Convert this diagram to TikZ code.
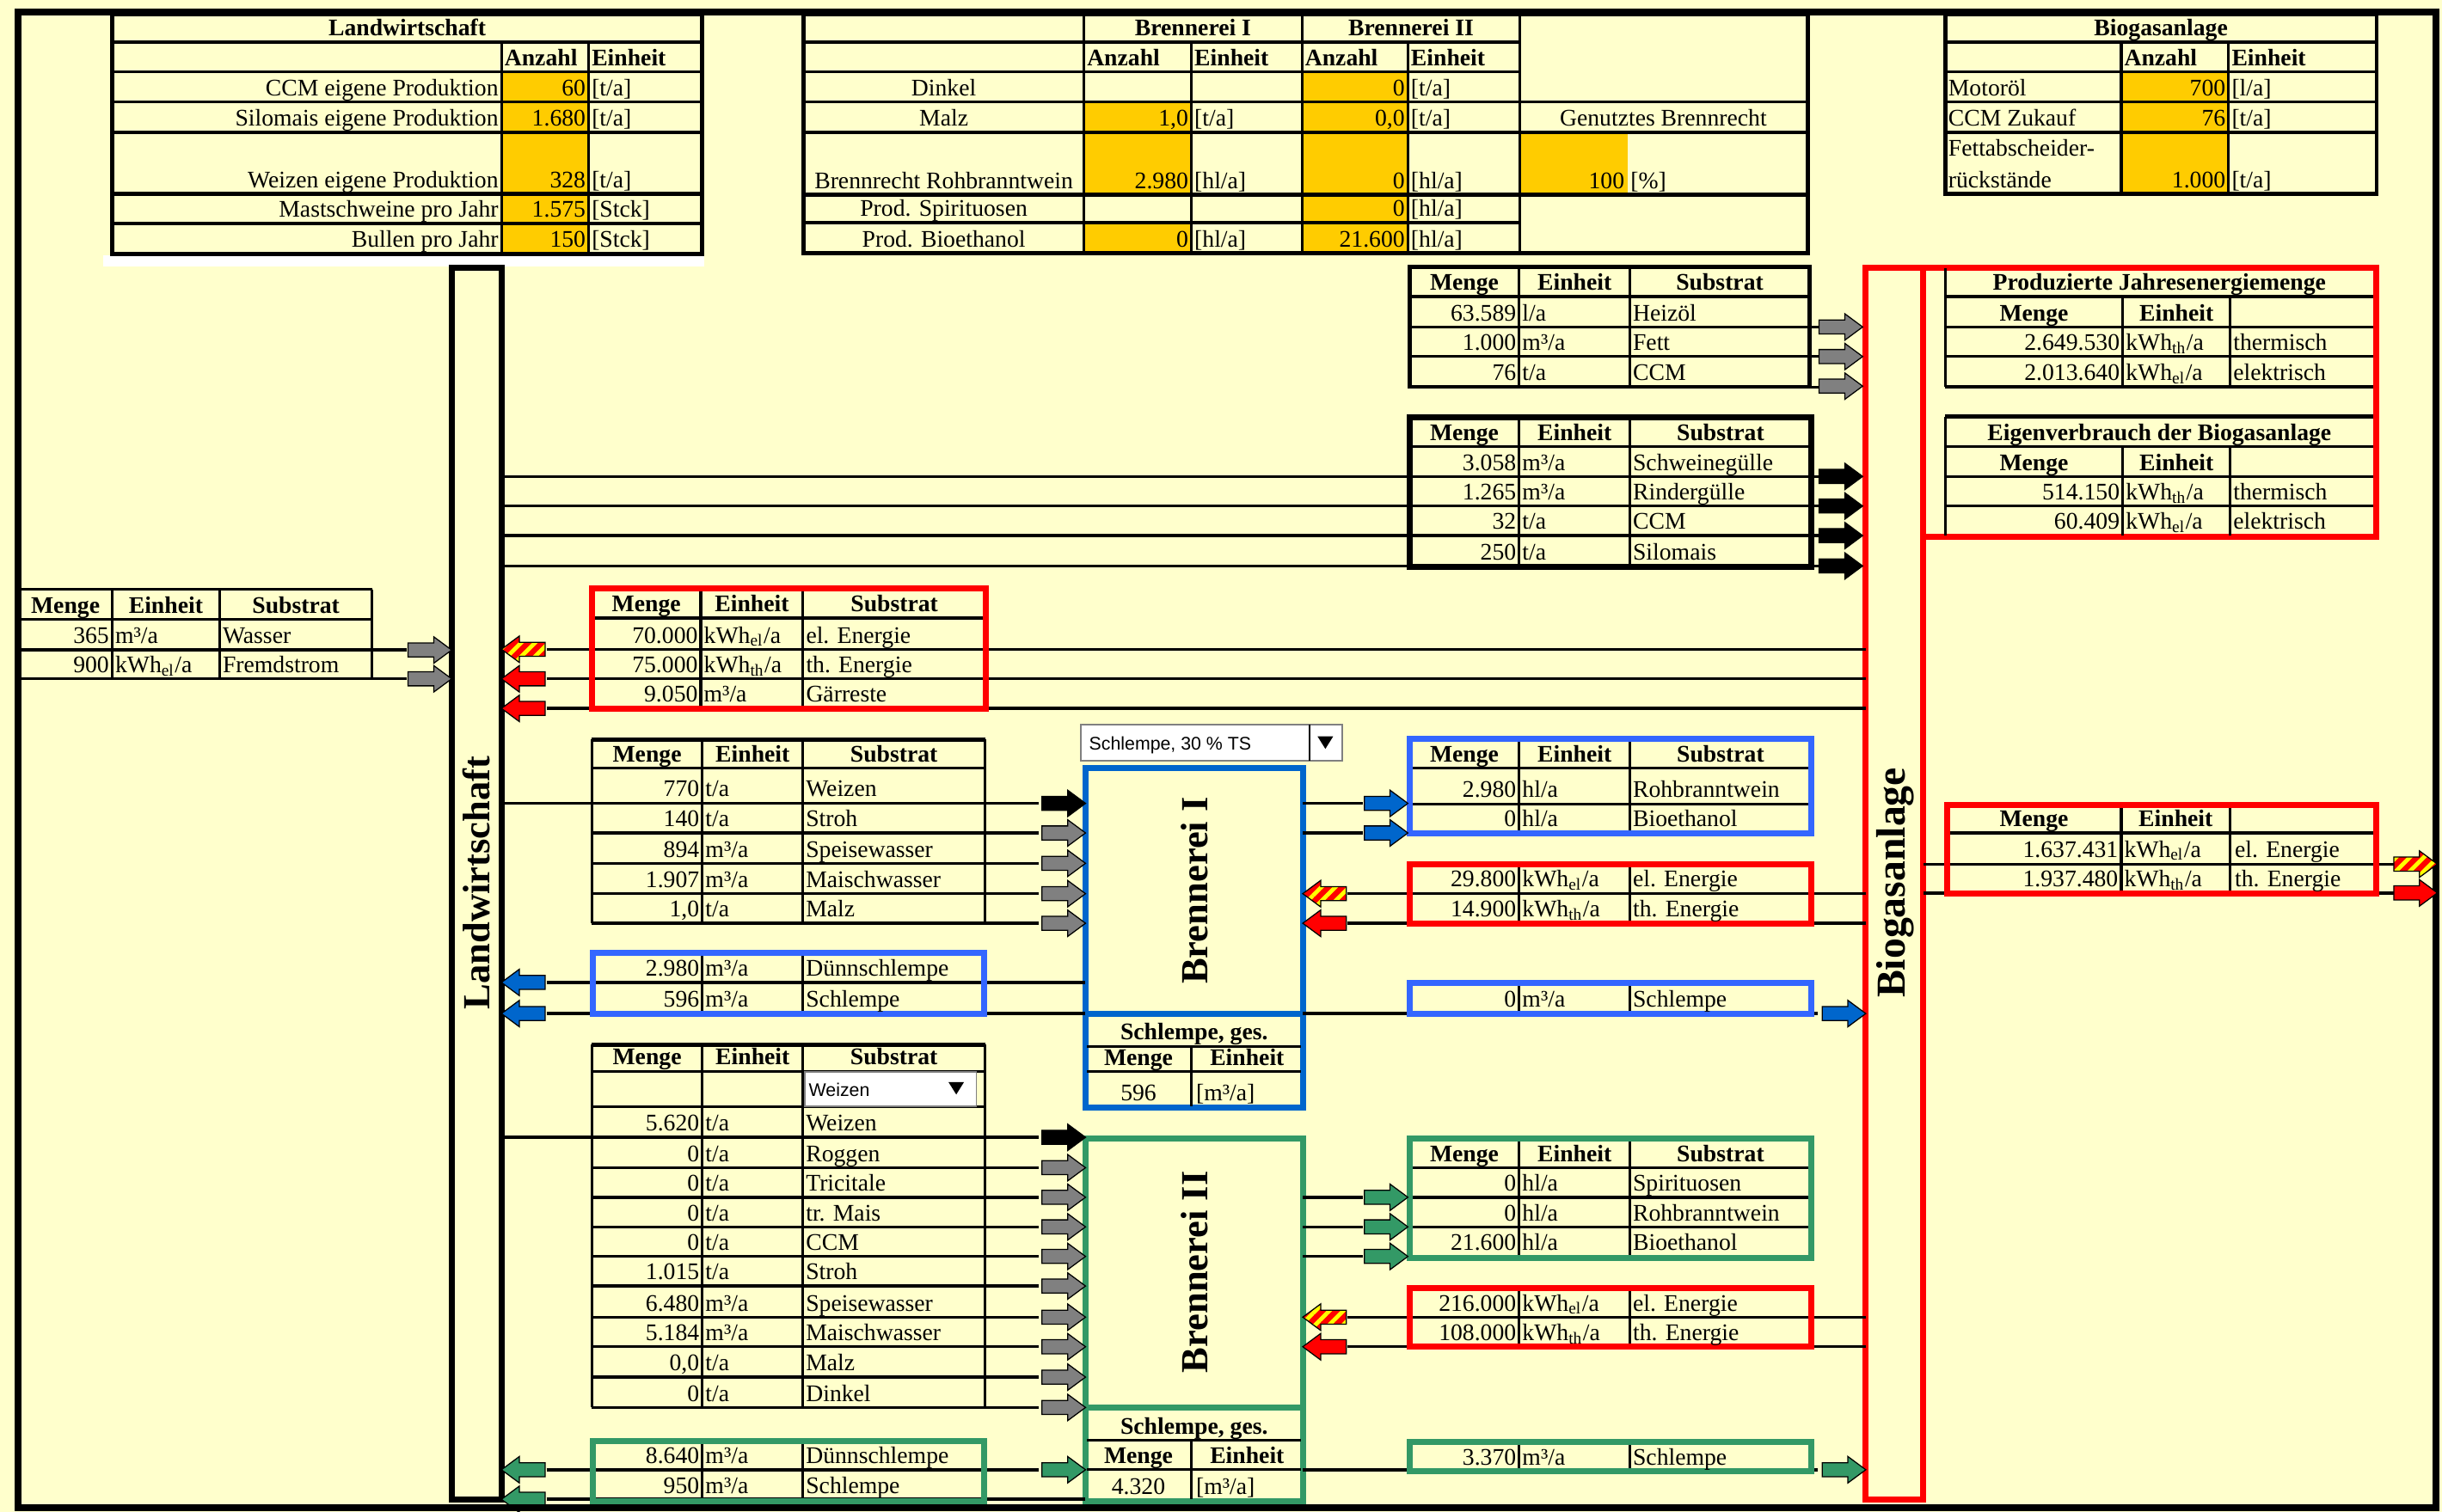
\documentclass[tikz,border=0pt]{standalone}
\usepackage{fontspec}
\setmainfont{Liberation Serif}
\newfontfamily\ddfont{Liberation Sans}
\usetikzlibrary{patterns.meta}
\definecolor{bgy}{HTML}{FFFFCC}
\definecolor{celly}{HTML}{FFCC00}
\definecolor{bbox}{HTML}{0066CC}
\definecolor{btab}{HTML}{3366FF}
\definecolor{gbox}{HTML}{339966}
\definecolor{garr}{HTML}{808080}
\newcounter{cn}
\newcommand\txR[3]{\stepcounter{cn}\node[txt,anchor=base east] (t\arabic{cn}) at (#1,#2) {#3};}
\newcommand\txL[3]{\stepcounter{cn}\node[txt,anchor=base west] (t\arabic{cn}) at (#1,#2) {#3};}
\newcommand\txC[3]{\stepcounter{cn}\node[txt,anchor=base] (t\arabic{cn}) at (#1,#2) {#3};}
\newcommand\hdC[3]{\stepcounter{cn}\node[hd,anchor=base] (t\arabic{cn}) at (#1,#2) {#3};}
\newcommand\hdL[3]{\stepcounter{cn}\node[hd,anchor=base west] (t\arabic{cn}) at (#1,#2) {#3};}
\newcommand\mhead[5]{\hdC{{(#1+#2)/2}}{#5}{Menge}\hdC{{(#2+#3)/2}}{#5}{Einheit}\hdC{{(#3+#4)/2}}{#5}{Substrat}}
\newcommand\mrow[6]{\txR{#1-2}{#3}{#4}\txL{#1+2}{#3}{#5}\txL{#2+2}{#3}{#6}}
\newcommand\kel{kWh\textsubscript{el}/a}
\newcommand\kth{kWh\textsubscript{th}/a}
\newcommand\arrowpath{(-28,-4.5) -- (-11.5,-4.5) -- (-11.5,-8.5) -- (0,0) -- (-11.5,8.5) -- (-11.5,4.5) -- (-28,4.5) -- cycle}
\tikzset{
  barrow/.pic={\path[pic actions] \arrowpath;},
  harrow/.pic={\fill[red] \arrowpath;
    \path[pattern={Lines[angle=45,distance=3.6pt,line width=1.5pt]},pattern color=yellow] \arrowpath;
    \draw[black,line width=0.4pt] \arrowpath;},
}
\begin{document}
\begin{tikzpicture}[x=0.02cm,y=-0.02cm,
  txt/.style={inner sep=0,outer sep=0,font=\fontsize{8.7}{10}\selectfont},
  hd/.style={inner sep=0,outer sep=0,font=\fontsize{8.7}{10}\selectfont\bfseries},
  big/.style={inner sep=0,outer sep=0,font=\fontsize{14}{16}\selectfont\bfseries,rotate=90},
  tl/.style={line width=1pt},
  tb/.style={line width=1.5pt},
  conn/.style={line width=1.1pt},
  cbord/.style={line width=2.2pt},
  boxnode/.style={draw,inner sep=0,outer sep=0,line width=2.2pt},
  agray/.style={draw=black,line width=0.4pt,fill=garr},
  ablack/.style={draw=black,line width=0.4pt,fill=black},
  ared/.style={draw=black,line width=0.4pt,fill=red},
  ablue/.style={draw=black,line width=0.4pt,fill=bbox},
  agreen/.style={draw=black,line width=0.4pt,fill=gbox},
]
% ---------- background and frame
\fill[bgy] (0,0) rectangle (1568,971);
\useasboundingbox (0,0) rectangle (1568,971);
\fill[white] (66,164) rectangle (452,171);

% ---------- main boxes
\node[boxnode,minimum width=0.64cm,minimum height=15.82cm] (lw) at (306,567.5) {};
\node[boxnode,draw=red,minimum width=0.74cm,minimum height=15.82cm] (bg) at (1216.5,567.5) {};
\node[big] (lwt) at (306,567) {Landwirtschaft};
\node[big,font=\fontsize{15}{17}\selectfont\bfseries] (bgt) at (1217,567) {Biogasanlage};

% ---------- top-left table Landwirtschaft
\fill[celly] (322,46) rectangle (378,163);
\draw[line width=1.3pt] (72,27) -- (451,27);
\draw[tl] (72,46)--(451,46) (72,65.5)--(451,65.5) (72,85)--(451,85) (72,143.5)--(451,143.5);
\draw[tb] (72,124.5)--(451,124.5);
\draw[tl] (322,27)--(322,163) (378,27)--(378,163);
\draw[tb] (72,9) rectangle (451,163);
\hdC{261.5}{23}{Landwirtschaft}
\hdL{324}{42}{Anzahl}\hdL{380}{42}{Einheit}
\txR{320}{61.5}{CCM eigene Produktion}\txR{376}{61.5}{60}\txL{380}{61.5}{[t/a]}
\txR{320}{81}{Silomais eigene Produktion}\txR{376}{81}{1.680}\txL{380}{81}{[t/a]}
\txR{320}{120.5}{Weizen eigene Produktion}\txR{376}{120.5}{328}\txL{380}{120.5}{[t/a]}
\txR{320}{139.5}{Mastschweine pro Jahr}\txR{376}{139.5}{1.575}\txL{380}{139.5}{[Stck]}
\txR{320}{159}{Bullen pro Jahr}\txR{376}{159}{150}\txL{380}{159}{[Stck]}

% ---------- top-middle table Brennerei
\fill[celly] (696,65.5) rectangle (765,125);
\fill[celly] (696,143) rectangle (765,162.5);
\fill[celly] (836,46) rectangle (904,162.5);
\fill[celly] (976,85) rectangle (1045,125);
\draw[tl] (516,27)--(696,27);
\draw[tb] (696,27)--(976,27);
\draw[tl] (516,46)--(976,46);
\draw[tl] (516,65.5)--(1161,65.5) (516,85)--(1161,85) (516,143)--(976,143);
\draw[tb] (516,125)--(1161,125);
\draw[tl] (696,9)--(696,162.5) (836,9)--(836,162.5) (976,9)--(976,162.5) (765,27)--(765,162.5) (904,27)--(904,162.5);
\draw[tb] (516,9) rectangle (1161,162.5);
\hdC{766}{23}{Brennerei I}\hdC{906}{23}{Brennerei II}
\hdL{698}{42}{Anzahl}\hdL{767}{42}{Einheit}\hdL{838}{42}{Anzahl}\hdL{906}{42}{Einheit}
\txC{606}{61.5}{Dinkel}\txR{902}{61.5}{0}\txL{906}{61.5}{[t/a]}
\txC{606}{81}{Malz}\txR{763}{81}{1,0}\txL{767}{81}{[t/a]}\txR{902}{81}{0,0}\txL{906}{81}{[t/a]}\txC{1068}{81}{Genutztes Brennrecht}
\txC{606}{121}{Brennrecht Rohbranntwein}\txR{763}{121}{2.980}\txL{767}{121}{[hl/a]}\txR{902}{121}{0}\txL{906}{121}{[hl/a]}\txR{1043}{121}{100}\txL{1047}{121}{[\%]}
\txC{606}{139}{Prod. Spirituosen}\txR{902}{139}{0}\txL{906}{139}{[hl/a]}
\txC{606}{158.5}{Prod. Bioethanol}\txR{763}{158.5}{0}\txL{767}{158.5}{[hl/a]}\txR{902}{158.5}{21.600}\txL{906}{158.5}{[hl/a]}

% ---------- top-right table Biogasanlage
\fill[celly] (1362,46) rectangle (1431,124.5);
\draw[tl] (1249,27)--(1526,27) (1249,46)--(1526,46) (1249,65.5)--(1526,65.5) (1249,85)--(1526,85);
\draw[tl] (1362,27)--(1362,124.5) (1431,27)--(1431,124.5);
\draw[tb] (1249,9) rectangle (1526,124.5);
\hdC{1387.5}{23}{Biogasanlage}
\hdL{1364}{42}{Anzahl}\hdL{1433}{42}{Einheit}
\txL{1251}{61.5}{Motoröl}\txR{1429}{61.5}{700}\txL{1433}{61.5}{[l/a]}
\txL{1251}{81}{CCM Zukauf}\txR{1429}{81}{76}\txL{1433}{81}{[t/a]}
\txL{1251}{100}{Fettabscheider-}\txL{1251}{120.5}{rückstände}\txR{1429}{120.5}{1.000}\txL{1433}{120.5}{[t/a]}

% ---------- Heizoel table
\draw[tl] (905,190.5)--(1162,190.5) (905,210)--(1168,210) (905,229)--(1168,229) (1162,248.5)--(1168,248.5);
\draw[tl] (975.5,171.5)--(975.5,248.5) (1046.5,171.5)--(1046.5,248.5);
\draw[tb] (905,171.5) rectangle (1162,248.5);
\mhead{905}{975.5}{1046.5}{1162}{186.5}
\mrow{975.5}{1046.5}{206}{63.589}{l/a}{Heizöl}
\mrow{975.5}{1046.5}{225}{1.000}{m³/a}{Fett}
\mrow{975.5}{1046.5}{244.5}{76}{t/a}{CCM}
\pic[agray] at (1196,210) {barrow};
\pic[agray] at (1196,229) {barrow};
\pic[agray] at (1196,248) {barrow};

% ---------- Guelle table + connectors from Landwirtschaft
\coordinate (sg1) at (1168,306);\coordinate (sg2) at (1168,325);
\coordinate (sg3) at (1168,344);\coordinate (sg4) at (1168,363.5);
\draw[conn] (lw.east |- sg1) -- (sg1) (lw.east |- sg2) -- (sg2) (lw.east |- sg3) -- (sg3) (lw.east |- sg4) -- (sg4);
\draw[tl] (905,287)--(1163,287);
\draw[tl] (975.5,268)--(975.5,364) (1046.5,268)--(1046.5,364);
\draw[line width=2.2pt] (905,268) rectangle (1163,364);
\mhead{905}{975.5}{1046.5}{1163}{283}
\mrow{975.5}{1046.5}{302}{3.058}{m³/a}{Schweinegülle}
\mrow{975.5}{1046.5}{321}{1.265}{m³/a}{Rindergülle}
\mrow{975.5}{1046.5}{340}{32}{t/a}{CCM}
\mrow{975.5}{1046.5}{359.5}{250}{t/a}{Silomais}
\pic[ablack] at (1196,306) {barrow};
\pic[ablack] at (1196,325) {barrow};
\pic[ablack] at (1196,344) {barrow};
\pic[ablack] at (1196,363.5) {barrow};

% ---------- Biogas energy box
\draw[red,cbord] (1235,172) rectangle (1526,345);
\draw[tl] (1249,172)--(1249,248.5) (1249,190.5)--(1524,190.5) (1249,210)--(1524,210) (1249,229)--(1524,229);
\draw[tb] (1249,248.5)--(1524,248.5);
\draw[tl] (1363,190.5)--(1363,248.5) (1432,190.5)--(1432,248.5);
\hdC{1386.5}{186.5}{Produzierte Jahresenergiemenge}
\hdC{1306}{206}{Menge}\hdC{1397.5}{206}{Einheit}
\txR{1361}{225}{2.649.530}\txL{1365}{225}{\kth}\txL{1434}{225}{thermisch}
\txR{1361}{244.5}{2.013.640}\txL{1365}{244.5}{\kel}\txL{1434}{244.5}{elektrisch}
\draw[tl] (1249,267.5)--(1249,344);
\draw[tb] (1249,267.5)--(1524,267.5);
\draw[tl] (1249,286.7)--(1524,286.7) (1249,306)--(1524,306) (1249,325)--(1524,325);
\draw[tl] (1363,286.7)--(1363,344) (1432,286.7)--(1432,344);
\hdC{1386.5}{283}{Eigenverbrauch der Biogasanlage}
\hdC{1306}{302}{Menge}\hdC{1397.5}{302}{Einheit}
\txR{1361}{321}{514.150}\txL{1365}{321}{\kth}\txL{1434}{321}{thermisch}
\txR{1361}{340}{60.409}\txL{1365}{340}{\kel}\txL{1434}{340}{elektrisch}

% ---------- left Wasser table
\coordinate (w1) at (261,417.5);\coordinate (w2) at (261,436);
\draw[tl] (12,378.5)--(239,378.5) (12,398)--(239,398);
\draw[tl] (72,378.5)--(72,436) (141,378.5)--(141,436) (239,378.5)--(239,436);
\draw[conn] (12,417.5)--(w1) (12,436)--(w2);
\mhead{12}{72}{141}{239}{394}
\mrow{72}{141}{413.5}{365}{m³/a}{Wasser}
\mrow{72}{141}{432}{900}{\kel}{Fremdstrom}
\pic[agray] at (lw.west |- w1) {barrow};
\pic[agray] at (lw.west |- w2) {barrow};

% ---------- red table at Landwirtschaft
\coordinate (r1) at (351,417);\coordinate (r2) at (351,436);\coordinate (r3) at (351,455);
\draw[conn] (r1) -- (bg.west |- r1) (r2) -- (bg.west |- r2) (r3) -- (bg.west |- r3);
\draw[tl] (380,397)--(633,397);
\draw[tl] (450,378)--(450,455) (515.6,378)--(515.6,455);
\draw[red,cbord] (380,378) rectangle (633,455);
\mhead{380}{450}{515.6}{633}{393}
\mrow{450}{515.6}{413}{70.000}{\kel}{el. Energie}
\mrow{450}{515.6}{432}{75.000}{\kth}{th. Energie}
\mrow{450}{515.6}{451}{9.050}{m³/a}{Gärreste}
\pic[xscale=-1] at (lw.east |- r1) {harrow};
\pic[ared,xscale=-1] at (lw.east |- r2) {barrow};
\pic[ared,xscale=-1] at (lw.east |- r3) {barrow};

% ---------- Brennerei I
\node[boxnode,draw=bbox,minimum width=2.79cm,minimum height=4.36cm] (b1) at (766.75,602.5) {};
\draw[bbox,cbord] (697,651)--(836.5,651);
\draw[tl] (698,672)--(835.5,672) (698,688)--(835.5,688) (765,672)--(765,710.5);
\hdC{766.75}{668}{Schlempe, ges.}
\hdC{731}{684.5}{Menge}\hdC{800.75}{684.5}{Einheit}
\txC{731}{707}{596}\txL{768}{707}{[m³/a]}
\node[big] (b1t) at (766.75,572) {Brennerei I};
% dropdown
\node[draw=gray,line width=0.5pt,fill=white,inner sep=0,outer sep=0,minimum width=3.36cm,minimum height=0.46cm] (dd1) at (778,477) {};
\node[inner sep=0,anchor=base west,font=\ddfont\fontsize{6.7}{8}\selectfont] (dd1t) at (699,481.5) {Schlempe, 30 \% TS};
\draw[line width=0.5pt] (841,465.5)--(841,488.5);
\fill (846,473) -- (856,473) -- (851,481) -- cycle;
% input table I
\coordinate (i1) at (667,516);\coordinate (i2) at (667,535);\coordinate (i3) at (667,554.5);
\coordinate (i4) at (667,574);\coordinate (i5) at (667,593);
\draw[conn] (lw.east |- i1) -- (i1) (380,535)--(i2) (380,554.5)--(i3) (380,574)--(i4) (380,593)--(i5);
\draw[tb] (380,475)--(632.5,475);
\draw[tl] (380,493.5)--(632.5,493.5);
\draw[tl] (380,475)--(380,593) (451,475)--(451,593) (515.5,475)--(515.5,593) (632.5,475)--(632.5,593);
\mhead{380}{451}{515.5}{632.5}{489.5}
\mrow{451}{515.5}{511.5}{770}{t/a}{Weizen}
\mrow{451}{515.5}{531}{140}{t/a}{Stroh}
\mrow{451}{515.5}{550.5}{894}{m³/a}{Speisewasser}
\mrow{451}{515.5}{570}{1.907}{m³/a}{Maischwasser}
\mrow{451}{515.5}{589}{1,0}{t/a}{Malz}
\pic[ablack] at (b1.west |- i1) {barrow};
\pic[agray] at (b1.west |- i2) {barrow};
\pic[agray] at (b1.west |- i3) {barrow};
\pic[agray] at (b1.west |- i4) {barrow};
\pic[agray] at (b1.west |- i5) {barrow};
% Duennschlempe I
\coordinate (d1) at (351,631);\coordinate (d2) at (351,651);
\draw[conn] (d1) -- (b1.west |- d1) (d2) -- (b1.west |- d2);
\draw[tl] (451,612)--(451,651) (515.5,612)--(515.5,651);
\draw[btab,cbord] (380.5,612) rectangle (632,651);
\mrow{451}{515.5}{627}{2.980}{m³/a}{Dünnschlempe}
\mrow{451}{515.5}{647}{596}{m³/a}{Schlempe}
\pic[ablue,xscale=-1] at (lw.east |- d1) {barrow};
\pic[ablue,xscale=-1] at (lw.east |- d2) {barrow};
% output I
\coordinate (o1) at (875,516);\coordinate (o2) at (875,535);
\draw[conn] (b1.east |- o1) -- (o1) (b1.east |- o2) -- (o2) (905,516.5)--(1163,516.5);
\draw[tl] (905,493.5)--(1163,493.5);
\draw[tl] (975.5,474.5)--(975.5,535.5) (1046.5,474.5)--(1046.5,535.5);
\draw[btab,cbord] (905,474.5) rectangle (1163,535.5);
\mhead{905}{975.5}{1046.5}{1163}{489.5}
\mrow{975.5}{1046.5}{512}{2.980}{hl/a}{Rohbranntwein}
\mrow{975.5}{1046.5}{531}{0}{hl/a}{Bioethanol}
\pic[ablue] at (904,516) {barrow};
\pic[ablue] at (904,535) {barrow};
% energy I
\coordinate (e1) at (865,574);\coordinate (e2) at (865,593);
\draw[conn] (e1) -- (bg.west |- e1) (e2) -- (bg.west |- e2);
\draw[tl] (975.5,555)--(975.5,593) (1046.5,555)--(1046.5,593);
\draw[red,cbord] (905,555) rectangle (1163,593);
\mrow{975.5}{1046.5}{569.5}{29.800}{\kel}{el. Energie}
\mrow{975.5}{1046.5}{589}{14.900}{\kth}{th. Energie}
\pic[xscale=-1] at (b1.east |- e1) {harrow};
\pic[ared,xscale=-1] at (b1.east |- e2) {barrow};
% Schlempe right I
\coordinate (s1) at (1167,651);
\draw[conn] (b1.east |- s1) -- (s1);
\draw[tl] (975.5,631.5)--(975.5,651) (1046.5,631.5)--(1046.5,651);
\draw[btab,cbord] (905,631.5) rectangle (1163,651);
\mrow{975.5}{1046.5}{647}{0}{m³/a}{Schlempe}
\pic[ablue] at (bg.west |- s1) {barrow};

% ---------- Brennerei II
\node[boxnode,draw=gbox,minimum width=2.79cm,minimum height=4.66cm] (b2) at (766.75,847.5) {};
\draw[gbox,cbord] (697,904)--(836.5,904);
\draw[tl] (698,925)--(835.5,925) (698,944)--(835.5,944) (765,925)--(765,963);
\hdC{766.75}{921}{Schlempe, ges.}
\hdC{731}{940}{Menge}\hdC{800.75}{940}{Einheit}
\txC{731}{960}{4.320}\txL{768}{960}{[m³/a]}
\node[big] (b2t) at (766.75,817) {Brennerei II};
% input table II
\coordinate (j1) at (667,730.5);\coordinate (j2) at (667,750);\coordinate (j3) at (667,769);
\coordinate (j4) at (667,788);\coordinate (j5) at (667,807);\coordinate (j6) at (667,826);
\coordinate (j7) at (667,846);\coordinate (j8) at (667,865);\coordinate (j9) at (667,884.5);
\coordinate (j10) at (667,904);
\draw[conn] (lw.east |- j1) -- (j1);
\foreach \k in {2,...,10}{\draw[conn] (380,0 |- j\k) -- (j\k);}
\draw[tb] (380,671)--(632.5,671);
\draw[tl] (380,688)--(632.5,688) (380,711)--(632.5,711);
\draw[tl] (380,671)--(380,904) (451,671)--(451,904) (515.5,671)--(515.5,904) (632.5,671)--(632.5,904);
\mhead{380}{451}{515.5}{632.5}{684}
\node[draw=gray,line width=0.4pt,fill=white,inner sep=0,outer sep=0,minimum width=2.2cm,minimum height=0.44cm] (dd2) at (571.75,699.5) {};
\node[inner sep=0,anchor=base west,font=\ddfont\fontsize{6.7}{8}\selectfont] (dd2t) at (519,704) {Weizen};
\fill (609,695) -- (619,695) -- (614,703) -- cycle;
\mrow{451}{515.5}{726.5}{5.620}{t/a}{Weizen}
\mrow{451}{515.5}{746}{0}{t/a}{Roggen}
\mrow{451}{515.5}{765}{0}{t/a}{Tricitale}
\mrow{451}{515.5}{784}{0}{t/a}{tr. Mais}
\mrow{451}{515.5}{803}{0}{t/a}{CCM}
\mrow{451}{515.5}{822}{1.015}{t/a}{Stroh}
\mrow{451}{515.5}{842}{6.480}{m³/a}{Speisewasser}
\mrow{451}{515.5}{861}{5.184}{m³/a}{Maischwasser}
\mrow{451}{515.5}{880.5}{0,0}{t/a}{Malz}
\mrow{451}{515.5}{900}{0}{t/a}{Dinkel}
\pic[ablack] at (b2.west |- j1) {barrow};
\foreach \k in {2,...,10}{\pic[agray] at (b2.west |- j\k) {barrow};}
% output II
\coordinate (p1) at (875,769);\coordinate (p2) at (875,788);\coordinate (p3) at (875,807);
\draw[conn] (b2.east |- p1) -- (p1) (b2.east |- p2) -- (p2) (b2.east |- p3) -- (p3) (905,769)--(1163,769) (905,788)--(1163,788);
\draw[tl] (905,750)--(1163,750);
\draw[tl] (975.5,731)--(975.5,808) (1046.5,731)--(1046.5,808);
\draw[gbox,cbord] (905,731) rectangle (1163,808);
\mhead{905}{975.5}{1046.5}{1163}{746}
\mrow{975.5}{1046.5}{765}{0}{hl/a}{Spirituosen}
\mrow{975.5}{1046.5}{784}{0}{hl/a}{Rohbranntwein}
\mrow{975.5}{1046.5}{803}{21.600}{hl/a}{Bioethanol}
\pic[agreen] at (904,769) {barrow};
\pic[agreen] at (904,788) {barrow};
\pic[agreen] at (904,807) {barrow};
% energy II
\coordinate (f1) at (865,846);\coordinate (f2) at (865,865);
\draw[conn] (f1) -- (bg.west |- f1) (f2) -- (bg.west |- f2);
\draw[tl] (975.5,827.5)--(975.5,865) (1046.5,827.5)--(1046.5,865);
\draw[red,cbord] (905,827.5) rectangle (1163,865);
\mrow{975.5}{1046.5}{842}{216.000}{\kel}{el. Energie}
\mrow{975.5}{1046.5}{861}{108.000}{\kth}{th. Energie}
\pic[xscale=-1] at (b2.east |- f1) {harrow};
\pic[ared,xscale=-1] at (b2.east |- f2) {barrow};
% Duennschlempe II
\coordinate (g1) at (351,944);\coordinate (g2) at (351,963);\coordinate (g3) at (667,944);
\draw[conn] (g1) -- (g3) (g2) -- (b2.west |- g2);
\draw[tl] (451,925.5)--(451,964) (515.5,925.5)--(515.5,964);
\draw[gbox,cbord] (380.5,925.5) rectangle (632,964);
\mrow{451}{515.5}{940}{8.640}{m³/a}{Dünnschlempe}
\mrow{451}{515.5}{959.5}{950}{m³/a}{Schlempe}
\pic[agreen,xscale=-1] at (lw.east |- g1) {barrow};
\pic[agreen,xscale=-1] at (lw.east |- g2) {barrow};
\pic[agreen] at (b2.west |- g3) {barrow};
% Schlempe right II
\coordinate (s2) at (1167,944);
\draw[conn] (b2.east |- s2) -- (s2);
\draw[tl] (975.5,926)--(975.5,945) (1046.5,926)--(1046.5,945);
\draw[gbox,cbord] (905,926) rectangle (1163,945);
\mrow{975.5}{1046.5}{941}{3.370}{m³/a}{Schlempe}
\pic[agreen] at (bg.west |- s2) {barrow};

% ---------- right energy output
\coordinate (q1) at (1537,555);\coordinate (q2) at (1537,573.5);
\draw[conn] (bg.east |- q1) -- (q1) (bg.east |- q2) -- (q2);
\draw[tl] (1250,535)--(1525.5,535);
\draw[tl] (1362,517)--(1362,574) (1432,517)--(1432,574);
\draw[red,cbord] (1250,517) rectangle (1525.5,574);
\hdC{1306}{531}{Menge}\hdC{1397}{531}{Einheit}
\txR{1360}{550.5}{1.637.431}\txL{1364}{550.5}{\kel}\txL{1435}{550.5}{el. Energie}
\txR{1360}{569.5}{1.937.480}\txL{1364}{569.5}{\kth}\txL{1435}{569.5}{th. Energie}

% ---------- outer frame
\draw[line width=2.5pt] (11.5,7.8) rectangle (1564,968.5);
\pic at (1565,555) {harrow};
\pic[ared] at (1565,573.5) {barrow};
\end{tikzpicture}
\end{document}
